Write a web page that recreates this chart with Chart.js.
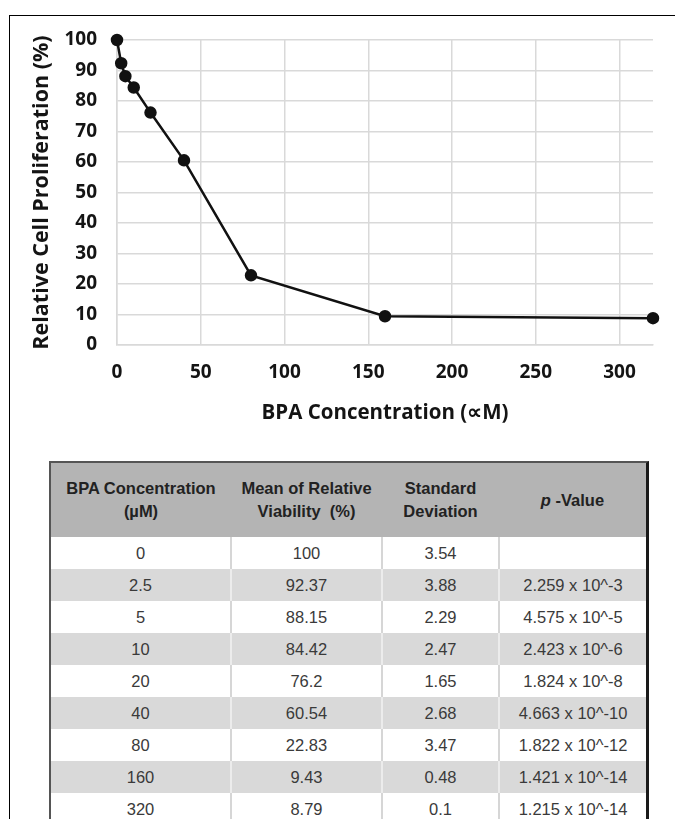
<!DOCTYPE html>
<html>
<head>
<meta charset="utf-8">
<script src="https://cdn.jsdelivr.net/npm/chart.js@4/dist/chart.umd.min.js"></script>
<style>
  html, body { margin:0; padding:0; background:#fff; }
  body { width:675px; height:819px; position:relative; overflow:hidden; }
  #frame { position:absolute; left:9px; top:15px; width:700px; height:900px;
    border-top:1.5px solid #000; border-left:1.5px solid #000; }
  #chartBox { position:absolute; left:0; top:0; width:675px; height:440px; }
  #tableBox { position:absolute; left:49px; top:461px; width:595px;
    border-top:2px solid #555; border-left:2px solid #555; border-right:3px solid #1a1a1a; }
  table { width:100%; border-collapse:collapse; table-layout:fixed;
    font-family:"Liberation Sans", Arial, sans-serif; }
  th { background:#b4b4b4; color:#222; font-size:16.5px; font-weight:bold;
    height:74px; padding:0; line-height:23px; text-align:center; }
  td { height:32px; padding:0; text-align:center; font-size:16.5px; color:#3a3a3a;
    border-left:2px solid #d6d6d6; }
  td:first-child { border-left:none; }
  tr.alt td { background:#d9d9d9; border-left-color:#ececec; }
  tr.alt td:first-child { border-left:none; }
</style>
</head>
<body>
<div id="frame"></div>
<div id="chartBox"><canvas id="chart"></canvas></div>
<div id="tableBox">
  <table id="dataTable">
    <colgroup><col style="width:180px"><col style="width:151px"><col style="width:117px"><col style="width:147px"></colgroup>
    <thead>
      <tr>
        <th>BPA Concentration<br>(µM)</th>
        <th>Mean of Relative<br>Viability&nbsp; (%)</th>
        <th>Standard<br>Deviation</th>
        <th><i>p</i> -Value</th>
      </tr>
    </thead>
    <tbody></tbody>
  </table>
</div>
<script>
const concentrations = [0, 2.5, 5, 10, 20, 40, 80, 160, 320];
const viability = [100, 92.37, 88.15, 84.42, 76.2, 60.54, 22.83, 9.43, 8.79];
const stdDev = ['3.54', '3.88', '2.29', '2.47', '1.65', '2.68', '3.47', '0.48', '0.1'];
const pValues = ['', '2.259 x 10^-3', '4.575 x 10^-5', '2.423 x 10^-6', '1.824 x 10^-8',
  '4.663 x 10^-10', '1.822 x 10^-12', '1.421 x 10^-14', '1.215 x 10^-14'];

const tbody = document.querySelector('#dataTable tbody');
concentrations.forEach((c, i) => {
  const tr = document.createElement('tr');
  if(i % 2 === 1) tr.className = 'alt';
  tr.innerHTML = `<td>${c}</td><td>${viability[i]}</td><td>${stdDev[i]}</td><td>${pValues[i]}</td>`;
  tbody.appendChild(tr);
});

const gridColor = '#d9d9d9';
const textColor = '#141414';
const font = 'Open Sans';

new Chart(document.getElementById('chart'), {
  type:'line',
  data:{
    datasets:[{
      data: concentrations.map((x, i) => ({ x, y: viability[i] })),
      borderColor:'#111',
      backgroundColor:'#111',
      borderWidth:2.5,
      pointRadius:5,
      pointHoverRadius:5,
      tension:0,
      clip:false
    }]
  },
  options:{
    responsive:true,
    maintainAspectRatio:false,
    animation:false,
    layout:{ padding:{ top:40, right:22, left:0, bottom:0 } },
    plugins:{ legend:{ display:false }, tooltip:{ enabled:false } },
    scales:{
      x:{
        type:'linear', min:0, max:320,
        ticks:{ stepSize:50, includeBounds:false, padding:16, color:textColor,
          font:{ family:font, size:19, weight:'bold' } },
        grid:{ color:gridColor, lineWidth:1.5, drawTicks:false },
        border:{ color:gridColor, width:1.5 },
        title:{ display:true, text:'BPA Concentration (∝M)', color:textColor,
          font:{ family:font, size:20.5, weight:'bold' }, padding:{ top:0, bottom:15 } },
        afterFit: s => { s.height = 95; }
      },
      y:{
        min:0, max:100,
        ticks:{ stepSize:10, padding:20, color:textColor,
          font:{ family:font, size:19, weight:'bold' } },
        grid:{ color:gridColor, lineWidth:1.5, drawTicks:false },
        border:{ color:gridColor, width:1.5 },
        title:{ display:true, text:'Relative Cell Proliferation (%)', color:textColor,
          font:{ family:font, size:21.5, weight:'bold' }, padding:{ top:29, bottom:0 } },
        afterFit: s => { s.width = 117; }
      }
    }
  }
});
</script>
</body>
</html>
